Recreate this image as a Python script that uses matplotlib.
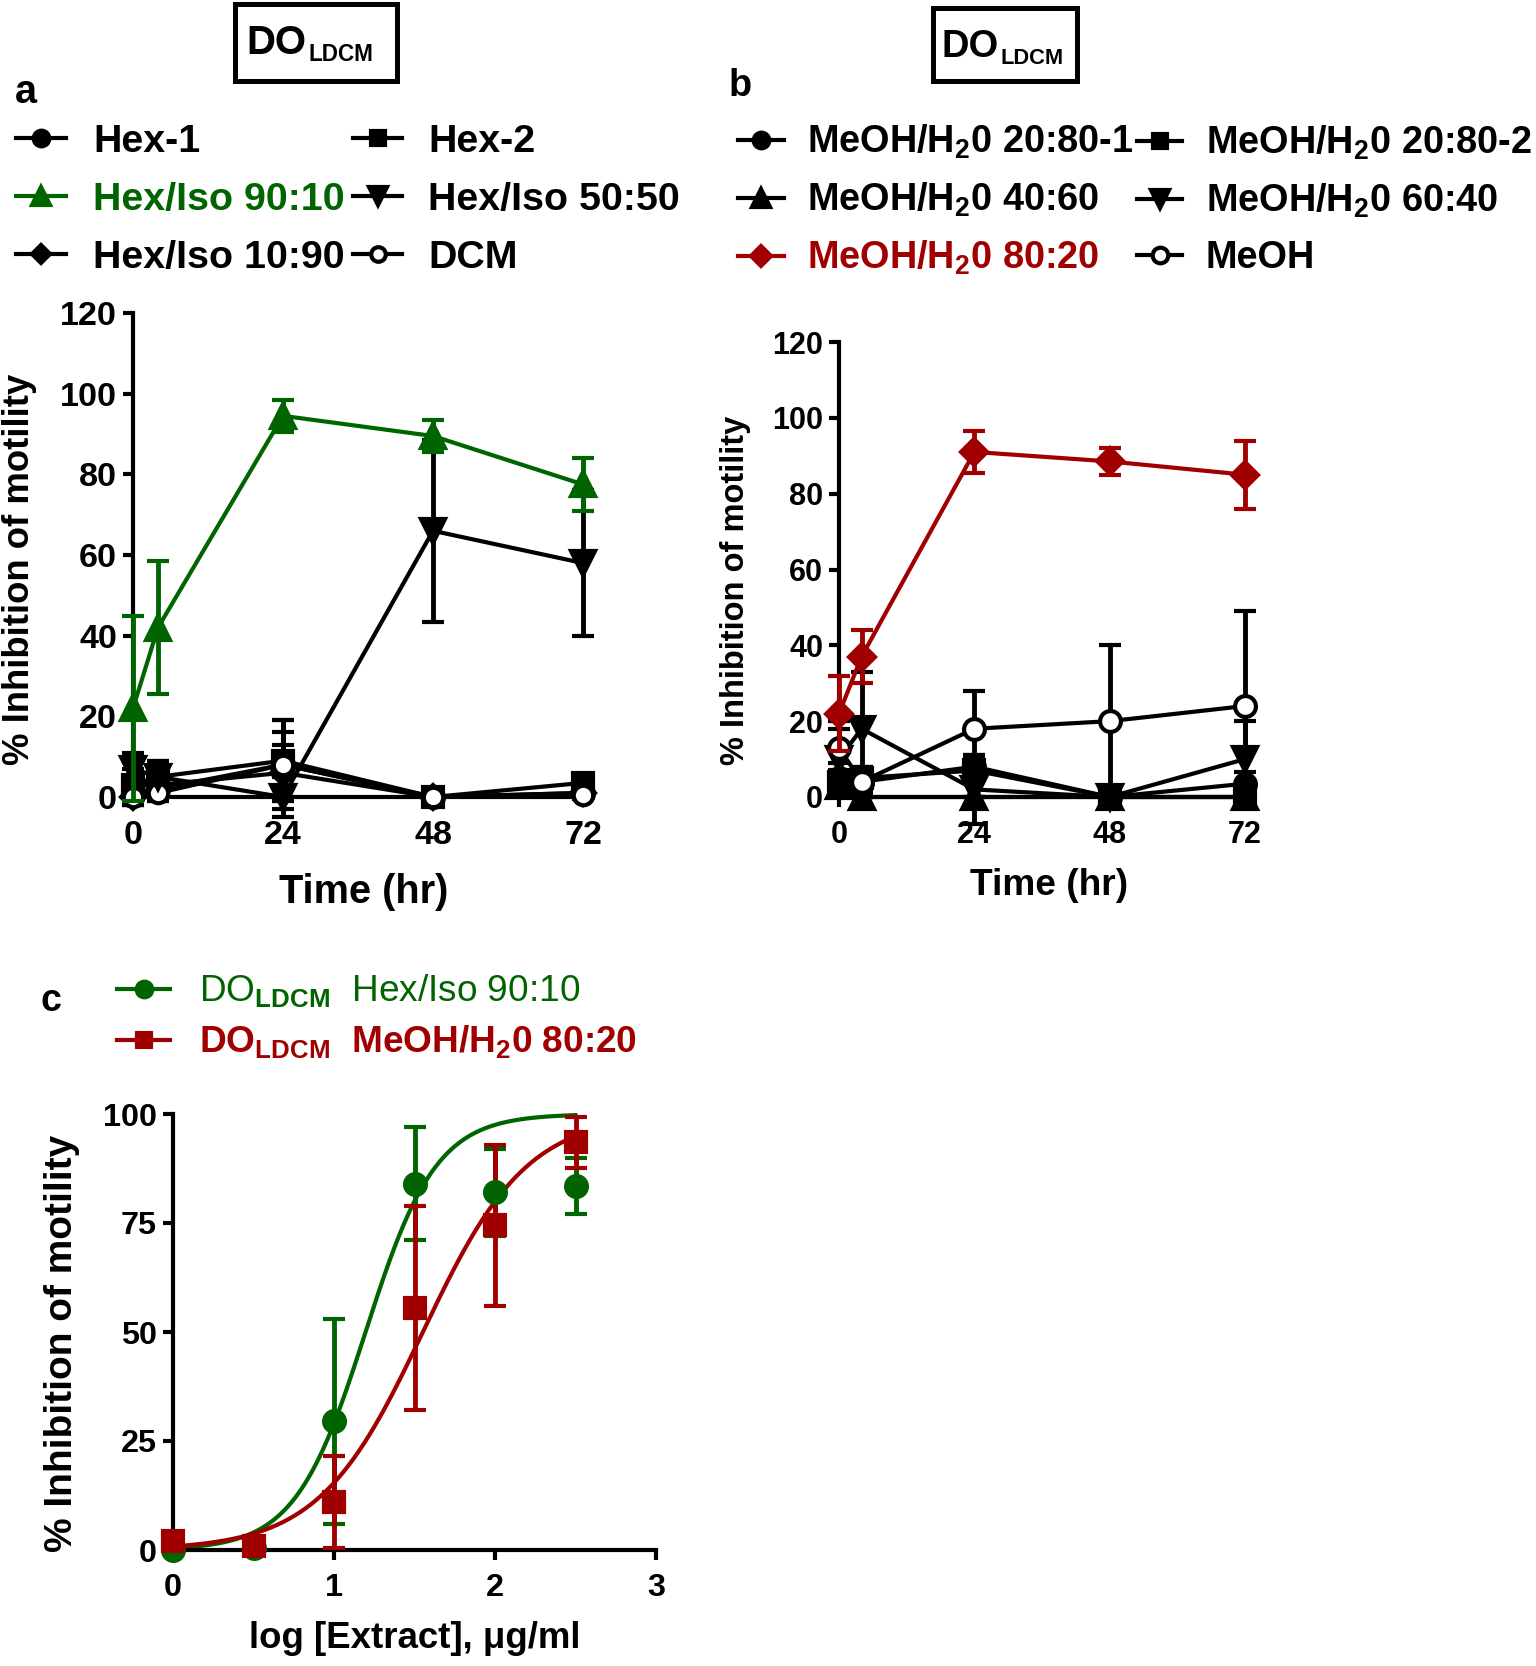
import numpy as np
import matplotlib
matplotlib.use('Agg')
import matplotlib.pyplot as plt
from matplotlib.patches import Rectangle

plt.rcParams['font.family'] = ['Liberation Sans', 'DejaVu Sans']
plt.rcParams['font.weight'] = 'bold'
plt.rcParams['axes.labelweight'] = 'bold'
plt.rcParams['mathtext.fontset'] = 'custom'
plt.rcParams['mathtext.rm'] = 'Liberation Sans'
plt.rcParams['mathtext.bf'] = 'Liberation Sans:bold'

GREEN = '#006400'
RED = '#A00000'

# --- panel a : DO LDCM hexane / isopropanol fractions ---
time_hr = [0, 4, 24, 48, 72]
hex1 = [1, 2, 8, 0, 1]
hex1_sd = [3, 3, 8, 0, 1]
hex2 = [3, 5, 9, 0, 3.5]
hex2_sd = [4, 4, 10, 0, 1.5]
hexiso_90_10 = [22, 42, 94.5, 89.5, 77.5]
hexiso_90_10_sd = [23, 16.5, 4, 4, 6.5]
hexiso_50_50 = [7, 5, 0, 66, 58]
hexiso_50_50_sd = [4, 4, 5, 22.5, 18]
hexiso_10_90 = [0, 3, 6, 0, 1]
hexiso_10_90_sd = [2, 3, 7, 0, 1]
dcm = [0, 1, 8, 0, 0.5]
dcm_sd = [2, 2, 11, 0, 1]

# --- panel b : DO LDCM methanol / water fractions ---
meoh_20_80_1 = [5, 4, 8, 0, 3.5]
meoh_20_80_1_sd = [4, 3, 3, 0, 3]
meoh_20_80_2 = [4, 5, 7, 0, 0]
meoh_20_80_2_sd = [3, 3, 3, 0, 0]
meoh_40_60 = [3, 0, 0, 0, 0]
meoh_40_60_sd = [2, 0, 0, 0, 0]
meoh_60_40 = [10, 18, 2, 0, 10]
meoh_60_40_sd = [8, 15, 9, 0, 10]
meoh_80_20 = [22, 37, 91, 88.5, 85]
meoh_80_20_sd = [10, 7, 5.5, 3.5, 9]
meoh = [13, 4, 18, 20, 24]
meoh_sd = [7, 4, 10, 20, 25]

# --- panel c : dose response ---
log_conc = [0, 0.5, 1, 1.5, 2, 2.5]
dr_hexiso = [0, 0.5, 29.5, 84, 82, 83.5]
dr_hexiso_sd = [0.5, 0.5, 23.5, 13, 10, 6.5]
dr_meoh = [2, 1, 11, 55.5, 74.5, 93.5]
dr_meoh_sd = [2, 1, 10.5, 23.5, 18.5, 5.8]
# fitted sigmoid parameters (bottom 0, top 100)
fit_hexiso = (1.196, 1.98)   # logEC50, hill slope
fit_meoh = (1.552, 1.34)

sub2 = r'$_\mathbf{2}$'
labels_a1 = ['Hex-1', 'Hex/Iso 90:10', 'Hex/Iso 10:90']
labels_a2 = ['Hex-2', 'Hex/Iso 50:50', 'DCM']
labels_b1 = ['MeOH/H' + sub2 + '0 20:80-1', 'MeOH/H' + sub2 + '0 40:60',
             'MeOH/H' + sub2 + '0 80:20']
labels_b2 = ['MeOH/H' + sub2 + '0 20:80-2', 'MeOH/H' + sub2 + '0 60:40', 'MeOH']
labels_c = [r'DO$_{\mathrm{LDCM}}$  Hex/Iso 90:10',
            r'DO$_{\mathbf{LDCM}}$  MeOH/H' + sub2 + '0 80:20']
ylab = '% Inhibition of motility'

W, H = 1536, 1666
fig = plt.figure(figsize=(W / 100, H / 100), dpi=100)
renderer = fig.canvas.get_renderer()

ov = fig.add_axes([0, 0, 1, 1], zorder=-5)
ov.set_xlim(0, W)
ov.set_ylim(H, 0)
ov.axis('off')


def text_size(s, weight='bold', size=20):
    t = fig.text(0, 0, s, fontsize=size, fontweight=weight)
    bb = t.get_window_extent(renderer)
    t.remove()
    return bb.width, bb.height


def fit(s, target_px, weight='bold'):
    # font size giving the text a given pixel width
    return 20 * target_px / text_size(s, weight)[0]


def px_axes(x0, y0, x1, y1):
    return fig.add_axes([x0 / W, 1 - y1 / H, (x1 - x0) / W, (y1 - y0) / H])


def style(ax, xt, yt, fs):
    for s in ['top', 'right']:
        ax.spines[s].set_visible(False)
    for s in ['left', 'bottom']:
        ax.spines[s].set_linewidth(3)
    ax.set_xlim(xt[0], xt[-1])
    ax.set_ylim(yt[0], yt[-1])
    ax.set_xticks(xt)
    ax.set_yticks(yt)
    ax.tick_params(width=3, length=7.5, labelsize=fs)
    ax.tick_params(axis='x', pad=9)
    ax.tick_params(axis='y', pad=4)
    ax.patch.set_alpha(0)


def series(ax, x, y, e, color, marker, ms, mfc=None, z=3):
    c = ax.errorbar(x, y, yerr=e, color=color, marker=marker, ms=ms,
                    mfc=mfc if mfc else color, mec=color, mew=3, lw=3,
                    elinewidth=3.5, capsize=8, capthick=3.5, zorder=z)
    c[0].set_clip_on(False)
    for a in c[1] + c[2]:
        a.set_clip_on(False)
    return c[0]


def labels(ax, xl, xw, yw, xpos, ypos):
    ax.set_xlabel(xl, fontsize=fit(xl, xw), va='center')
    ax.set_ylabel(ylab, fontsize=fit(ylab, yw), va='center')
    ax.xaxis.set_label_coords(*xpos)
    ax.yaxis.set_label_coords(*ypos)


def legend_col(handles, labs, x_line, line_px, x_text, y_mid, pitch, fs):
    fpx = fs * 100 / 72
    th = max(text_size(l, 'bold', fs)[1] for l in labs)
    return fig.legend(handles, labs, loc='center left',
                      bbox_to_anchor=(x_line / W, 1 - y_mid / H), frameon=False,
                      prop=dict(size=fs, weight='bold'), handlelength=line_px / fpx,
                      handletextpad=(x_text - x_line - line_px) / fpx,
                      labelspacing=(pitch - th) / fpx, borderpad=0, borderaxespad=0,
                      markerscale=0.75)


# panel a
axa = px_axes(133, 313, 583, 797)
style(axa, [0, 24, 48, 72], [0, 20, 40, 60, 80, 100, 120], fit('120', 57))
la1 = series(axa, time_hr, hex1, hex1_sd, 'black', 'o', 15)
la2 = series(axa, time_hr, hex2, hex2_sd, 'black', 's', 14)
la5 = series(axa, time_hr, hexiso_10_90, hexiso_10_90_sd, 'black', 'D', 12)
la6 = series(axa, time_hr, dcm, dcm_sd, 'black', 'o', 14, mfc='white')
la4 = series(axa, time_hr, hexiso_50_50, hexiso_50_50_sd, 'black', 'v', 17)
la3 = series(axa, time_hr, hexiso_90_10, hexiso_90_10_sd, GREEN, '^', 17, z=4)
labels(axa, 'Time (hr)', 169, 391, (0.512, -0.197), (-0.253, 0.471))

# panel b
axb = px_axes(839, 342, 1245, 797)
style(axb, [0, 24, 48, 72], [0, 20, 40, 60, 80, 100, 120], fit('120', 51))
lb1 = series(axb, time_hr, meoh_20_80_1, meoh_20_80_1_sd, 'black', 'o', 15)
lb2 = series(axb, time_hr, meoh_20_80_2, meoh_20_80_2_sd, 'black', 's', 14)
lb3 = series(axb, time_hr, meoh_40_60, meoh_40_60_sd, 'black', '^', 17)
lb4 = series(axb, time_hr, meoh_60_40, meoh_60_40_sd, 'black', 'v', 17)
lb6 = series(axb, time_hr, meoh, meoh_sd, 'black', 'o', 15, mfc='white')
lb5 = series(axb, time_hr, meoh_80_20, meoh_80_20_sd, RED, 'D', 13, z=4)
labels(axb, 'Time (hr)', 158, 350, (0.518, -0.195), (-0.256, 0.455))

# panel c
axc = px_axes(173, 1114, 656, 1550)
style(axc, [0, 1, 2, 3], [0, 25, 50, 75, 100], fit('100', 54))
xf = np.linspace(log_conc[0], log_conc[-1], 300)
for (ec50, hill), col in [(fit_hexiso, GREEN), (fit_meoh, RED)]:
    axc.plot(xf, 100 / (1 + 10 ** ((ec50 - xf) * hill)), color=col, lw=3, clip_on=False)
lc1 = series(axc, log_conc, dr_hexiso, dr_hexiso_sd, GREEN, 'o', 15)
lc2 = series(axc, log_conc, dr_meoh, dr_meoh_sd, RED, 's', 14)
for l in (lc1, lc2):
    l.set_linestyle('none')
labels(axc, 'log [Extract], \u03bcg/ml', 331, 416, (0.5, -0.204), (-0.23, 0.475))

# legends (one per column)
fs_a = fit(labels_a1[1], 252)
lg = legend_col([la1, la3, la5], labels_a1, 16, 50, 93, 200, 58, fs_a)
lg.get_texts()[1].set_color(GREEN)
legend_col([la2, la4, la6], labels_a2, 353, 49, 428, 200, 58, fs_a)

fs_b = fit(labels_b1[0], 327)
lg = legend_col([lb1, lb3, lb5], labels_b1, 738, 46, 807, 200, 58, fs_b)
lg.get_texts()[2].set_color(RED)
legend_col([lb2, lb4, lb6], labels_b2, 1137, 45, 1206, 200, 58, fs_b)

fs_c = fit(labels_c[1], 439)
lg = legend_col([lc1, lc2], labels_c, 117, 53, 199, 1017, 51, fs_c)
for h in lg.legend_handles:
    h.set_linestyle('-')
lg.get_texts()[0].set_color(GREEN)
lg.get_texts()[0].set_fontweight('normal')
lg.get_texts()[1].set_color(RED)

# title boxes and panel letters
for (x0, y0, x1, y1), (dx, db, dw), (lb, lw) in [
        ((235, 4, 397, 81), (246, 54, 60), (61, 65)),
        ((933, 8, 1077, 81), (942, 57, 57), (64, 63))]:
    ov.add_patch(Rectangle((x0, y0), x1 - x0, y1 - y0, fill=False, lw=3.6, ec='black'))
    ov.text(dx, db, 'DO', fontsize=fit('DO', dw), fontweight='bold', va='baseline')
    ov.text(dx + dw + 2, lb, 'LDCM', fontsize=fit('LDCM', lw), fontweight='bold',
            va='baseline')

ov.text(15, 103, 'a', fontsize=fit('a', 22), fontweight='bold', va='baseline')
ov.text(729, 96, 'b', fontsize=fit('b', 23), fontweight='bold', va='baseline')
ov.text(40, 1011, 'c', fontsize=fit('c', 21), fontweight='bold', va='baseline')

fig.savefig('out.png', dpi=100, facecolor='white')
